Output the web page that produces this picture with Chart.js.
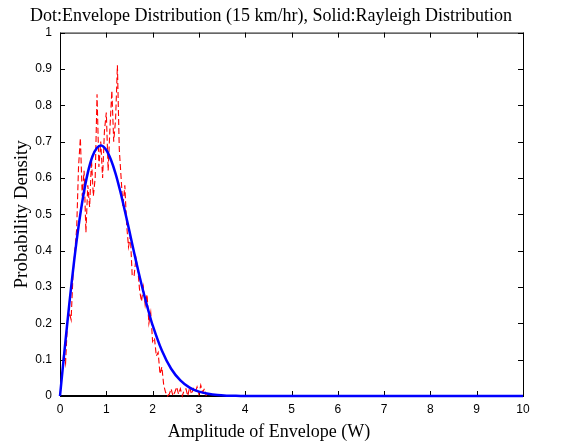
<!DOCTYPE html>
<html>
<head>
<meta charset="utf-8">
<script src="https://cdn.jsdelivr.net/npm/chart.js@4/dist/chart.umd.min.js"></script>
<style>
html,body{margin:0;padding:0;background:#fff;}
#wrap{width:562px;height:448px;position:relative;}
</style>
</head>
<body>
<div id="wrap"><canvas id="c" width="562" height="448"></canvas></div>
<script>
const chartTitle = "Dot:Envelope Distribution (15 km/hr), Solid:Rayleigh Distribution";
const xLabel = "Amplitude of Envelope (W)";
const yLabel = "Probability Density";

const envelopeX = [0.00,0.04,0.08,0.12,0.16,0.20,0.24,0.28,0.32,0.36,0.40,0.44,0.48,0.52,0.56,0.60,0.64,0.68,0.72,0.76,
  0.80,0.84,0.88,0.92,0.96,1.00,1.04,1.08,1.12,1.16,1.20,1.24,1.28,1.32,1.36,1.40,1.44,1.48,1.52,1.56,
  1.60,1.64,1.68,1.72,1.76,1.80,1.84,1.88,1.92,1.96,2.00,2.04,2.08,2.12,2.16,2.20,2.24,2.28,2.32,2.36,
  2.40,2.44,2.48,2.52,2.56,2.60,2.64,2.68,2.72,2.76,2.80,2.84,2.88,2.92,2.96,3.00,3.04,3.08,3.12,3.16];
const envelopeY = [0.00,0.05,0.12,0.09,0.20,0.23,0.21,0.33,0.40,0.46,0.63,0.71,0.55,0.62,0.45,0.58,0.52,0.65,0.55,0.60,
  0.83,0.63,0.70,0.60,0.73,0.78,0.62,0.74,0.84,0.70,0.76,0.91,0.68,0.60,0.52,0.58,0.47,0.41,0.44,0.33,
  0.33,0.38,0.35,0.29,0.26,0.30,0.25,0.28,0.20,0.23,0.15,0.16,0.11,0.12,0.06,0.08,0.03,0.01,0.00,0.005,
  0.02,0.00,0.01,0.025,0.005,0.02,0.00,0.015,0.02,0.00,0.025,0.005,0.02,0.01,0.025,0.005,0.03,0.01,0.02,0.00];

const rayleighX = [0,0.1,0.2,0.3,0.4,0.5,0.6,0.7,0.8,0.9,1.0,1.1,1.2,1.3,1.4,1.5,1.6,1.7,1.8,1.9,2.0,
  2.2,2.4,2.6,2.8,3.0,3.2,3.4,3.6,3.8,4.0,5,6,7,8,9,10];
const rayleighY = [0,0.128,0.252,0.366,0.466,0.549,0.614,0.659,0.683,0.689,0.677,0.650,0.612,0.564,0.510,0.453,0.395,0.339,0.287,0.239,0.195,
  0.125,0.075,0.043,0.023,0.012,0.006,0.0025,0.001,0.0004,0.0002,0,0,0,0,0,0];

const xTicks = [0,1,2,3,4,5,6,7,8,9,10];
const yTicks = [0,0.1,0.2,0.3,0.4,0.5,0.6,0.7,0.8,0.9,1];

const toPts = (xs, ys) => xs.map((x, i) => ({x: x, y: ys[i]}));

const boxPlugin = {
  id: 'box',
  beforeDatasetsDraw(chart) {
    const {ctx, chartArea: a, scales: {x, y}} = chart;
    ctx.save();
    ctx.strokeStyle = '#000';
    ctx.lineWidth = 1;
    ctx.strokeRect(a.left + 0.5, a.top + 0.5, a.right - a.left, a.bottom - a.top);
    ctx.beginPath();
    const tl = 5;
    xTicks.forEach(v => {
      const px = Math.round(x.getPixelForValue(v)) + 0.5;
      ctx.moveTo(px, a.bottom); ctx.lineTo(px, a.bottom - tl);
      ctx.moveTo(px, a.top); ctx.lineTo(px, a.top + tl);
    });
    yTicks.forEach(v => {
      const py = Math.round(y.getPixelForValue(v)) + 0.5;
      ctx.moveTo(a.left, py); ctx.lineTo(a.left + tl, py);
      ctx.moveTo(a.right, py); ctx.lineTo(a.right - tl, py);
    });
    ctx.stroke();
    ctx.lineWidth = 2;
    ctx.beginPath();
    ctx.moveTo(a.left, a.bottom); ctx.lineTo(a.right, a.bottom);
    ctx.stroke();
    ctx.restore();
  },
  afterDraw(chart) {
    const {ctx} = chart;
    ctx.save();
    ctx.fillStyle = '#000';
    ctx.font = '18px "Liberation Serif"';
    ctx.textAlign = 'center';
    ctx.textBaseline = 'alphabetic';
    ctx.fillText(xLabel, 269, 437);
    ctx.restore();
  }
};

new Chart(document.getElementById('c'), {
  type: 'line',
  data: {
    datasets: [
      {
        label: 'Rayleigh',
        data: toPts(rayleighX, rayleighY),
        borderColor: '#0000ff',
        borderWidth: 2.5,
        pointRadius: 0,
        fill: false,
        tension: 0.3,
        clip: false,
        order: 0
      },
      {
        label: 'Envelope',
        data: toPts(envelopeX, envelopeY),
        borderColor: '#ff0000',
        borderWidth: 1.1,
        borderDash: [6, 3],
        pointRadius: 0,
        fill: false,
        tension: 0,
        clip: false,
        order: 1
      }
    ]
  },
  options: {
    responsive: false,
    animation: false,
    layout: {padding: {left: 0, right: 20, top: 0, bottom: 0}},
    plugins: {
      legend: {display: false},
      tooltip: {enabled: false},
      title: {
        display: true,
        text: chartTitle,
        color: '#000',
        font: {family: 'Liberation Serif', size: 18, weight: 'normal'},
        padding: {top: 5, bottom: 6}
      }
    },
    scales: {
      x: {
        type: 'linear',
        min: 0, max: 10,
        afterFit: s => { s.height = 52; },
        afterBuildTicks: s => { s.ticks = xTicks.map(v => ({value: v})); },
        grid: {display: false, drawTicks: false},
        border: {display: false},
        ticks: {color: '#000', padding: 6, font: {family: 'Liberation Sans', size: 12}, maxRotation: 0},
        title: {display: false}
      },
      y: {
        type: 'linear',
        min: 0, max: 1,
        afterFit: s => { s.width = 60; },
        afterBuildTicks: s => { s.ticks = yTicks.map(v => ({value: v})); },
        grid: {display: false, drawTicks: false},
        border: {display: false},
        ticks: {color: '#000', padding: 8, font: {family: 'Liberation Sans', size: 12},
          callback: v => String(Math.round(v * 10) / 10)},
        title: {display: true, text: yLabel, color: '#000',
          font: {family: 'Liberation Serif', size: 19}, padding: {top: 11, bottom: 0}}
      },
      yr: {
        type: 'linear',
        position: 'right',
        min: 0, max: 1,
        afterFit: s => { s.width = 19; },
        grid: {display: false, drawTicks: false},
        border: {display: false},
        ticks: {display: false}
      }
    }
  },
  plugins: [boxPlugin]
});
</script>
</body>
</html>
